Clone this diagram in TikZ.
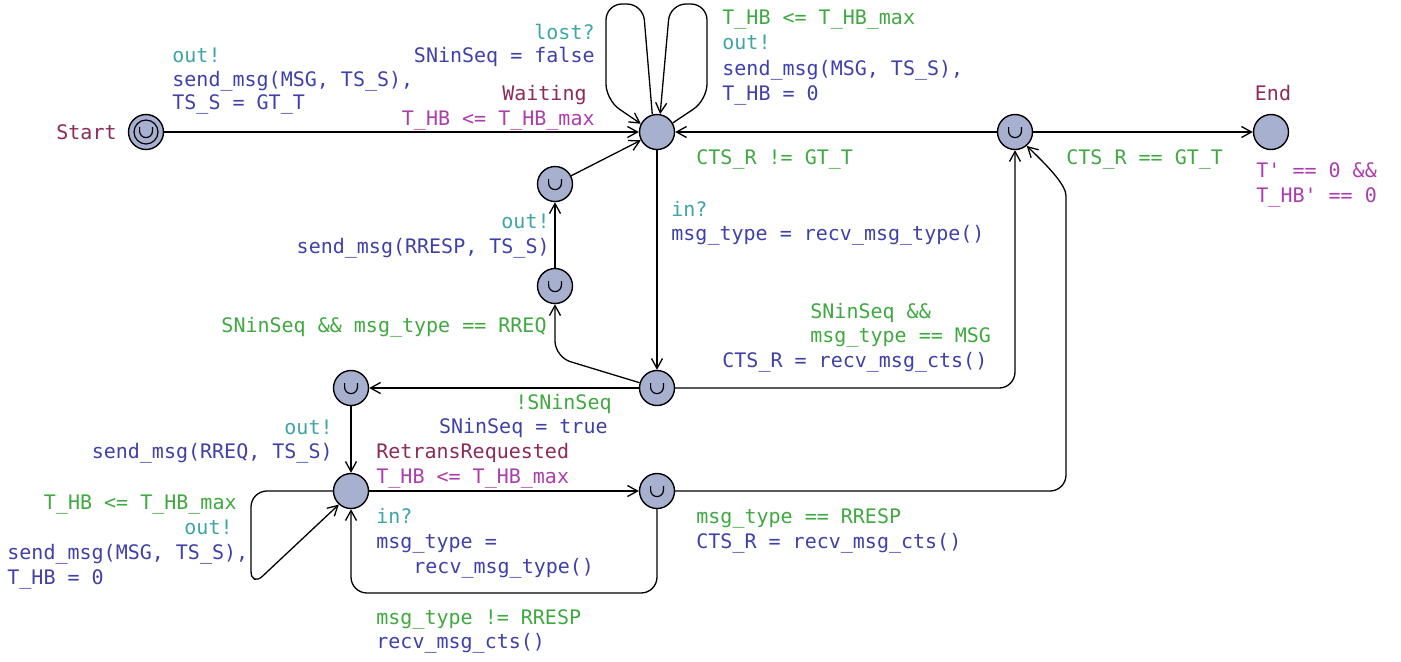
\documentclass[tikz,border=0pt]{standalone}
\usepackage{fontspec}
\usepackage{tikz}
\newfontfamily\uppaalfont{DejaVu Sans Mono}
\newcommand{\locsize}{17.5pt}
\newcommand{\ushape}{%
  \draw[line width=0.6pt] ([xshift=-3.2pt,yshift=2.4pt]path picture bounding box.center)
    -- ++(0,-2pt) arc[start angle=180,end angle=360,radius=3.2pt] -- ++(0,2pt);}
\definecolor{locFill}{RGB}{168,176,208}
\definecolor{nameCol}{RGB}{140,42,90}
\definecolor{invCol}{RGB}{172,62,172}
\definecolor{syncCol}{RGB}{62,165,165}
\definecolor{updCol}{RGB}{64,64,168}
\definecolor{guardCol}{RGB}{64,168,64}
\usetikzlibrary{arrows.meta}
\tikzset{
  >={Straight Barb[length=5pt,width=5.5pt]},
  font=\uppaalfont\fontsize{10pt}{12pt}\selectfont,
  loc/.style={draw,fill=locFill,shape=circle,minimum size=\locsize,inner sep=0,line width=0.7pt},
  urgent/.style={loc,path picture={\ushape}},
  initurgent/.style={loc,path picture={\ushape
      \draw[line width=0.6pt] (path picture bounding box.center) circle[radius=6pt];}},
  line/.style={draw,->,line width=0.65pt,rounded corners=8pt},
  txt/.style={inner sep=0,yshift=-1.5pt},
  locname/.style={txt,text=nameCol},
  inv/.style={txt,text=invCol},
  sync/.style={txt,text=syncCol},
  upd/.style={txt,text=updCol},
  guard/.style={txt,text=guardCol},
}
\begin{document}
\begin{tikzpicture}[x=0.5pt,y=-0.5pt]
  \useasboundingbox (0,0) rectangle (1401,661);

  % locations
  \node (start) [initurgent] at (146,132) {};
  \node (waiting) [loc] at (657,132) {};
  \node (ctsCheck) [urgent] at (1015,132) {};
  \node (endLoc) [loc] at (1271,132) {};
  \node (sendResp) [urgent] at (555,184) {};
  \node (respReq) [urgent] at (555,286) {};
  \node (recvMsg) [urgent] at (657,388) {};
  \node (sendReq) [urgent] at (351,388) {};
  \node (retrans) [loc] at (351,491) {};
  \node (recvResp) [urgent] at (657,491) {};
  \coordinate (loopLow) at (500,593);

  % location names and invariants
  \node (startName) [locname,anchor=mid east] at (117,132) {Start};
  \node (waitingName) [locname,anchor=mid east] at (587,93) {Waiting};
  \node (waitingInv) [inv,anchor=mid east] at (595,118) {T\_HB <= T\_HB\_max};
  \node (endName) [locname,anchor=mid] at (1273,93) {End};
  \node (endInv1) [inv,anchor=mid west] at (1256,170) {T' == 0 \&\&};
  \node (endInv2) [inv,anchor=mid west] at (1256,195) {T\_HB' == 0};
  \node (retransName) [locname,anchor=mid west] at (376,451) {RetransRequested};
  \node (retransInv) [inv,anchor=mid west] at (376,476) {T\_HB <= T\_HB\_max};

  % edges
  \path [line] (start) -- (waiting);
  \node (startSync) [sync,anchor=mid west] at (172,55) {out!};
  \node (startUpd1) [upd,anchor=mid west] at (172,79) {send\_msg(MSG, TS\_S),};
  \node (startUpd2) [upd,anchor=mid west] at (172,102) {TS\_S = GT\_T};

  \path [line] (waiting.105) -- (643,4) -- (606,4) -- (606,100) -- (waiting.153);
  \node (lostSync) [sync,anchor=mid east] at (595,32) {lost?};
  \node (lostUpd) [upd,anchor=mid east] at (595,55) {SNinSeq = false};

  \path [line] (waiting.30) -- (707,100) -- (707,4) -- (670,4) -- (waiting.80);
  \node (hbGuard) [guard,anchor=mid west] at (722,17) {T\_HB <= T\_HB\_max};
  \node (hbSync) [sync,anchor=mid west] at (722,42) {out!};
  \node (hbUpd1) [upd,anchor=mid west] at (722,68) {send\_msg(MSG, TS\_S),};
  \node (hbUpd2) [upd,anchor=mid west] at (722,93) {T\_HB = 0};

  \path [line] (ctsCheck) -- (waiting);
  \node (neGuard) [guard,anchor=mid west] at (696,157) {CTS\_R != GT\_T};
  \path [line] (ctsCheck) -- (endLoc);
  \node (eqGuard) [guard,anchor=mid west] at (1066,157) {CTS\_R == GT\_T};

  \path [line] (waiting) -- (recvMsg);
  \node (inSync) [sync,anchor=mid west] at (671,209) {in?};
  \node (inUpd) [upd,anchor=mid west] at (671,233) {msg\_type = recv\_msg\_type()};

  \path [line] (recvMsg) -| (ctsCheck);
  \node (msgGuard1) [guard,anchor=mid west] at (810,311) {SNinSeq \&\&};
  \node (msgGuard2) [guard,anchor=mid west] at (810,335) {msg\_type == MSG};
  \node (msgUpd) [upd,anchor=mid west] at (722,360) {CTS\_R = recv\_msg\_cts()};

  \path [line] (recvMsg) -- (555,357) -- (respReq);
  \node (rreqGuard) [guard,anchor=mid east] at (547,325) {SNinSeq \&\& msg\_type == RREQ};
  \path [line] (respReq) -- (sendResp);
  \node (respSync) [sync,anchor=mid east] at (550,221) {out!};
  \node (respUpd) [upd,anchor=mid east] at (550,246) {send\_msg(RRESP, TS\_S)};
  \path [line] (sendResp) -- (waiting);

  \path [line] (recvMsg) -- (sendReq);
  \node (seqGuard) [guard,anchor=mid east] at (612,402) {!SNinSeq};
  \node (seqUpd) [upd,anchor=mid east] at (608,426) {SNinSeq = true};
  \path [line] (sendReq) -- (retrans);
  \node (reqSync) [sync,anchor=mid east] at (333,427) {out!};
  \node (reqUpd) [upd,anchor=mid east] at (333,451) {send\_msg(RREQ, TS\_S)};

  \path [line] (retrans) -- (recvResp);
  \node (in2Sync) [sync,anchor=mid west] at (376,516) {in?};
  \node (in2Upd1) [upd,anchor=mid west] at (376,541) {msg\_type =};
  \node (in2Upd2) [upd,anchor=mid west] at (413,566) {recv\_msg\_type()};

  \path [line] (recvResp) |- (loopLow) -| (retrans);
  \node (otherGuard) [guard,anchor=mid west] at (376,617) {msg\_type != RRESP};
  \node (otherUpd) [upd,anchor=mid west] at (376,641) {recv\_msg\_cts()};

  \path [line] (recvResp) -- (1066,491) -- (1066,212) .. controls (1066,186) and (1052,170) .. (ctsCheck.-50);
  \node (rrespGuard) [guard,anchor=mid west] at (696,516) {msg\_type == RRESP};
  \node (rrespUpd) [upd,anchor=mid west] at (696,541) {CTS\_R = recv\_msg\_cts()};

  \path [line] (retrans) -- (251,491) -- (251,587) -- (retrans.228);
  \node (rtGuard) [guard,anchor=mid east] at (237,502) {T\_HB <= T\_HB\_max};
  \node (rtSync) [sync,anchor=mid east] at (233,527) {out!};
  \node (rtUpd1) [upd,anchor=mid west] at (7,552) {send\_msg(MSG, TS\_S),};
  \node (rtUpd2) [upd,anchor=mid west] at (7,577) {T\_HB = 0};
\end{tikzpicture}
\end{document}
